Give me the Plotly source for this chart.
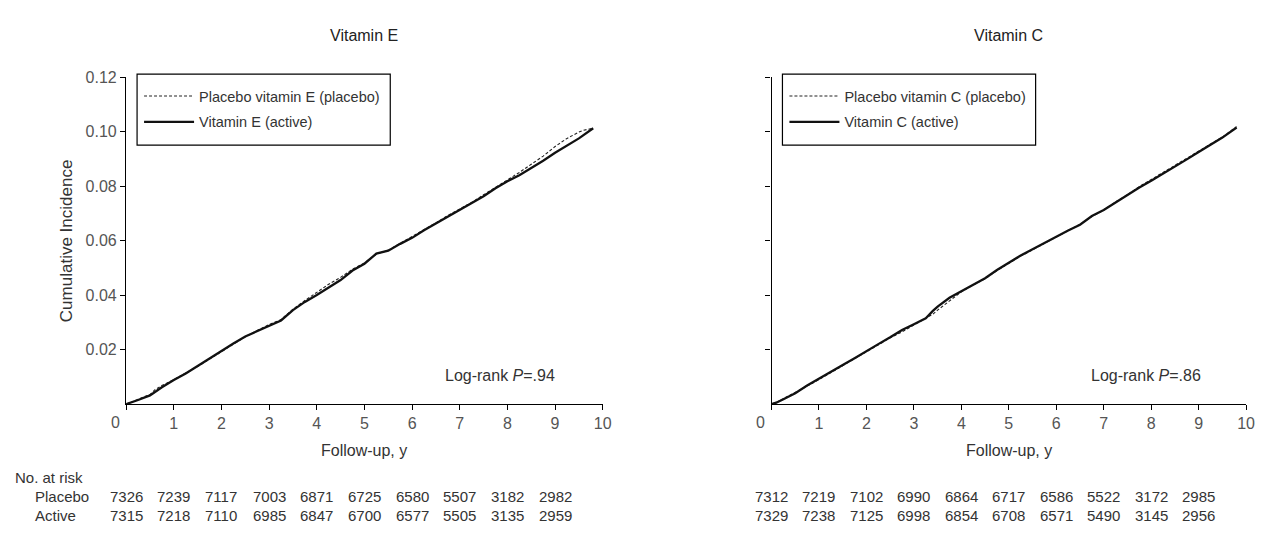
import plotly.graph_objects as go

W, H = 1263, 533

def px(x):
    return x / W

def py(y):
    return 1 - y / H

# ---------------- data ----------------
panel_titles = ["Vitamin E", "Vitamin C"]
legend_placebo = ["Placebo vitamin E (placebo)", "Placebo vitamin C (placebo)"]
legend_active = ["Vitamin E (active)", "Vitamin C (active)"]
logrank_p = [".94", ".86"]

x_ticks = [0, 1, 2, 3, 4, 5, 6, 7, 8, 9, 10]
y_ticks = [0.02, 0.04, 0.06, 0.08, 0.10, 0.12]
y_ticktext = ["0.02", "0.04", "0.06", "0.08", "0.10", "0.12"]

# Vitamin E
t_e_placebo = [0, 0.1, 0.25, 0.5, 0.6, 0.75, 1.0, 1.25, 1.5, 1.75, 2.0, 2.25, 2.5, 2.75, 3.0, 3.25,
               3.5, 3.75, 4.0, 4.25, 4.5, 4.75, 5.0, 5.25, 5.5, 5.75, 6.0, 6.25, 6.5, 6.75, 7.0,
               7.25, 7.5, 7.75, 8.0, 8.25, 8.5, 8.75, 9.0, 9.25, 9.5, 9.6, 9.8]
ci_e_placebo = [0, 0.0006, 0.0018, 0.0035, 0.0052, 0.0068, 0.0090, 0.0113, 0.0138, 0.0165, 0.0193,
                0.0220, 0.0247, 0.0270, 0.0292, 0.0310, 0.0348, 0.0380, 0.0410, 0.0440, 0.0465,
                0.0495, 0.0518, 0.0550, 0.0565, 0.0590, 0.0612, 0.0640, 0.0665, 0.0692, 0.0715,
                0.0740, 0.0768, 0.0795, 0.0822, 0.0850, 0.0880, 0.0910, 0.0945, 0.0975, 0.0998,
                0.1005, 0.1012]
t_e_active = [0, 0.1, 0.25, 0.5, 0.75, 1.0, 1.25, 1.5, 1.75, 2.0, 2.25, 2.5, 2.75, 3.0, 3.25, 3.5,
              3.75, 4.0, 4.25, 4.5, 4.75, 5.0, 5.25, 5.5, 5.75, 6.0, 6.25, 6.5, 6.75, 7.0, 7.25,
              7.5, 7.75, 8.0, 8.25, 8.5, 8.75, 9.0, 9.25, 9.5, 9.8]
ci_e_active = [0, 0.0005, 0.0015, 0.0032, 0.0062, 0.0088, 0.0112, 0.0140, 0.0168, 0.0195, 0.0222,
               0.0248, 0.0268, 0.0289, 0.0307, 0.0345, 0.0375, 0.0400, 0.0428, 0.0455, 0.0490,
               0.0515, 0.0552, 0.0563, 0.0588, 0.0610, 0.0638, 0.0663, 0.0688, 0.0712, 0.0738,
               0.0763, 0.0792, 0.0818, 0.0840, 0.0865, 0.0893, 0.0922, 0.0948, 0.0975, 0.1012]

# Vitamin C
t_c_placebo = [0, 0.1, 0.25, 0.5, 0.75, 1.0, 1.25, 1.5, 1.75, 2.0, 2.25, 2.5, 2.75, 3.0, 3.25, 3.4,
               3.5, 3.75, 4.0, 4.25, 4.5, 4.75, 5.0, 5.25, 5.5, 5.75, 6.0, 6.25, 6.5, 6.75, 7.0,
               7.25, 7.5, 7.75, 8.0, 8.25, 8.5, 8.75, 9.0, 9.25, 9.5, 9.8]
ci_c_placebo = [0, 0.0006, 0.0020, 0.0042, 0.0066, 0.0090, 0.0116, 0.0141, 0.0167, 0.0193, 0.0219,
                0.0243, 0.0265, 0.0290, 0.0312, 0.0330, 0.0345, 0.0380, 0.0412, 0.0437, 0.0460,
                0.0490, 0.0518, 0.0543, 0.0566, 0.0590, 0.0613, 0.0635, 0.0660, 0.0688, 0.0712,
                0.0742, 0.0768, 0.0798, 0.0824, 0.0850, 0.0875, 0.0903, 0.0930, 0.0955, 0.0980,
                0.1018]
t_c_active = [0, 0.1, 0.25, 0.5, 0.75, 1.0, 1.25, 1.5, 1.75, 2.0, 2.25, 2.5, 2.75, 3.0, 3.25, 3.4,
              3.5, 3.75, 4.0, 4.25, 4.5, 4.75, 5.0, 5.25, 5.5, 5.75, 6.0, 6.25, 6.5, 6.75, 7.0,
              7.25, 7.5, 7.75, 8.0, 8.25, 8.5, 8.75, 9.0, 9.25, 9.5, 9.8]
ci_c_active = [0, 0.0005, 0.0018, 0.0040, 0.0068, 0.0092, 0.0118, 0.0143, 0.0168, 0.0195, 0.0220,
               0.0245, 0.0272, 0.0293, 0.0315, 0.0342, 0.0358, 0.0390, 0.0415, 0.0438, 0.0462,
               0.0492, 0.0520, 0.0545, 0.0568, 0.0592, 0.0615, 0.0637, 0.0658, 0.0690, 0.0712,
               0.0740, 0.0765, 0.0795, 0.0820, 0.0845, 0.0870, 0.0898, 0.0925, 0.0952, 0.0978,
               0.1015]

# Number at risk (columns at years 0..9)
risk_years = [0, 1, 2, 3, 4, 5, 6, 7, 8, 9]
risk_e_placebo = [7326, 7239, 7117, 7003, 6871, 6725, 6580, 5507, 3182, 2982]
risk_e_active = [7315, 7218, 7110, 6985, 6847, 6700, 6577, 5505, 3135, 2959]
risk_c_placebo = [7312, 7219, 7102, 6990, 6864, 6717, 6586, 5522, 3172, 2985]
risk_c_active = [7329, 7238, 7125, 6998, 6854, 6708, 6571, 5490, 3145, 2956]

# ---------------- style ----------------
FONT = "Liberation Sans Narrow, Arial Narrow, Liberation Sans, Arial, sans-serif"
TEXT = "#333333"
TICK = "#555555"

panel_left = [119, 769]
panel_right = [599, 1247]
x_dom = [[px(panel_left[k]), px(panel_right[k])] for k in range(2)]
y_dom = [py(394), py(62)]

fig = go.Figure()

series = [
    (t_e_placebo, ci_e_placebo, t_e_active, ci_e_active, "x", "y", "legend"),
    (t_c_placebo, ci_c_placebo, t_c_active, ci_c_active, "x2", "y2", "legend2"),
]
for i, (tp, cp, ta, ca, xa, ya, lg) in enumerate(series):
    fig.add_trace(go.Scatter(x=tp, y=cp, mode="lines", name=legend_placebo[i],
                             legendgroup="p%d" % i,
                             line=dict(color="#222222", width=1.1, dash="3px,2px"),
                             xaxis=xa, yaxis=ya, legend=lg, hoverinfo="skip"))
    fig.add_trace(go.Scatter(x=ta, y=ca, mode="lines", name=legend_active[i],
                             legendgroup="a%d" % i,
                             line=dict(color="#111111", width=2.3),
                             xaxis=xa, yaxis=ya, legend=lg, hoverinfo="skip"))

axis_common = dict(showline=True, linecolor="black", linewidth=1.4, ticks="outside",
                   ticklen=5, tickwidth=1.2, tickcolor="black", showgrid=False, zeroline=False,
                   tickfont=dict(family=FONT, size=16, color=TICK))

for k, (xn, yn) in enumerate([("xaxis", "yaxis"), ("xaxis2", "yaxis2")]):
    xa = dict(axis_common, domain=x_dom[k], range=[0, 10], tickmode="array",
              tickvals=x_ticks, ticktext=[""] + [str(v) for v in x_ticks[1:]],
              anchor="y" if k == 0 else "y2")
    ya = dict(axis_common, domain=y_dom, range=[0, 0.12], tickmode="array",
              tickvals=y_ticks, ticktext=y_ticktext, showticklabels=(k == 0),
              anchor="x" if k == 0 else "x2")
    fig.update_layout(**{xn: xa, yn: ya})


def txt(text, x, y, xref="paper", size=15, color=TEXT, xanchor="center", angle=0):
    return dict(text=text, x=x, y=y, xref=xref, yref="paper", showarrow=False,
                xanchor=xanchor, yanchor="middle", textangle=angle, borderpad=0,
                font=dict(family=FONT, size=size, color=color))


annotations = []
shapes = []
for k in range(2):
    x0 = panel_left[k]
    cx = (panel_left[k] + panel_right[k]) / 2
    annotations.append(txt(panel_titles[k], px(cx), py(20), size=16, color="#222222"))
    annotations.append(txt("Follow-up, y", px(cx), py(441), size=16))
    annotations.append(txt("0", px(x0 - 11), py(413), size=16, color=TICK))
    annotations.append(txt("Log-rank <i>P</i>=" + logrank_p[k],
                           px(x0 + 377), py(365), size=16))
    shapes.append(dict(type="rect", xref="paper", yref="paper",
                       x0=px(x0 + 11), x1=px(x0 + 266), y0=py(131), y1=py(59),
                       line=dict(color="black", width=1.2)))

annotations.append(txt("Cumulative Incidence", px(59), py(228), size=17, angle=-90))

# At-risk table
row_y = [469, 488, 507]
annotations.append(txt("No. at risk", px(6), py(row_y[0]), xanchor="left"))
annotations.append(txt("Placebo", px(26), py(row_y[1]), xanchor="left"))
annotations.append(txt("Active", px(26), py(row_y[2]), xanchor="left"))
tables = [("x", risk_e_placebo, risk_e_active), ("x2", risk_c_placebo, risk_c_active)]
for xr, rp, ra in tables:
    for yr, v in zip(risk_years, rp):
        annotations.append(txt(str(v), yr, py(row_y[1]), xref=xr))
    for yr, v in zip(risk_years, ra):
        annotations.append(txt(str(v), yr, py(row_y[2]), xref=xr))

legend_common = dict(bgcolor="rgba(0,0,0,0)", borderwidth=0, xanchor="left", yanchor="top",
                     font=dict(family=FONT, size=14.5, color=TEXT), itemwidth=50,
                     traceorder="grouped", tracegroupgap=4,
                     itemclick=False, itemdoubleclick=False)

fig.update_layout(
    width=W, height=H,
    margin=dict(l=0, r=0, t=0, b=0),
    paper_bgcolor="white", plot_bgcolor="white",
    showlegend=True,
    legend=dict(legend_common, x=px(panel_left[0] + 13), y=py(65)),
    legend2=dict(legend_common, x=px(panel_left[1] + 13), y=py(65)),
    annotations=annotations,
    shapes=shapes,
)

fig.write_html("out.html")
